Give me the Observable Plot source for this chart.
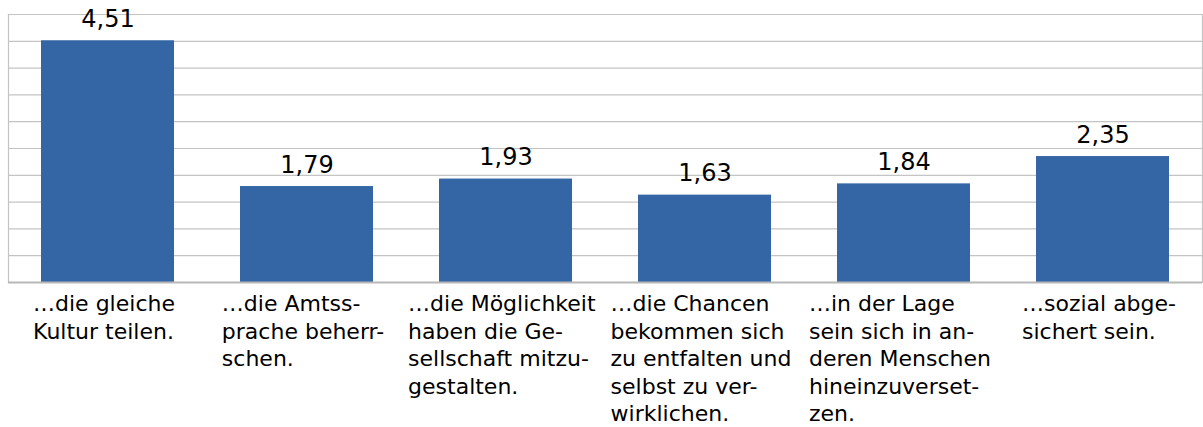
<!DOCTYPE html>
<html>
<head>
<meta charset="utf-8">
<script src="https://cdn.jsdelivr.net/npm/d3@7"></script>
<script src="https://cdn.jsdelivr.net/npm/@observablehq/plot@0.6"></script>
<style>
  html, body { margin: 0; padding: 0; background: #fff; }
  #chart svg { display: block; }
</style>
</head>
<body>
<div id="chart"></div>
<script>
const categories = [
  "…die gleiche\nKultur teilen.",
  "…die Amtss-\nprache beherr-\nschen.",
  "…die Möglichkeit\nhaben die Ge-\nsellschaft mitzu-\ngestalten.",
  "…die Chancen\nbekommen sich\nzu entfalten und\nselbst zu ver-\nwirklichen.",
  "…in der Lage\nsein sich in an-\nderen Menschen\nhineinzuverset-\nzen.",
  "…sozial abge-\nsichert sein."
];
const values = [4.51, 1.79, 1.93, 1.63, 1.84, 2.35];
const gridTicks = [0.5, 1, 1.5, 2, 2.5, 3, 3.5, 4, 4.5, 5];

const data = categories.map((c, i) => ({cat: c, value: values[i]}));
const fmt = v => v.toFixed(2).replace(".", ",");

const chart = Plot.plot({
  width: 1203,
  height: 427,
  marginLeft: 8,
  marginRight: 1,
  marginTop: 14,
  marginBottom: 145,
  style: {fontFamily: "DejaVu Sans", background: "#fff"},
  x: {domain: categories, paddingInner: 0.33, paddingOuter: 0.165, label: null},
  y: {domain: [0, 5], label: null, axis: null},
  marks: [
    Plot.ruleY(gridTicks, {stroke: "#c4c4c4", strokeWidth: 1.2}),
    Plot.frame({stroke: "#c4c4c4", strokeWidth: 1.2, anchor: "left"}),
    Plot.frame({stroke: "#c4c4c4", strokeWidth: 1.2, anchor: "right"}),
    Plot.barY(data, {x: "cat", y: "value", fill: "#3465a4"}),
    Plot.ruleY([0], {stroke: "#b8b8b8", strokeWidth: 1.8}),
    Plot.text(data, {
      x: "cat", y: "value", text: d => fmt(d.value),
      lineAnchor: "bottom", dy: -14, fontSize: 24, fill: "#000"
    }),
    Plot.axisX({
      tickSize: 0, tickPadding: 9, fontSize: 22, lineHeight: 1.25,
      textAnchor: "start", fill: "#000", label: null
    })
  ]
});
document.getElementById("chart").append(chart);

// center each wrapped label block under its bar, lines left-aligned
chart.querySelectorAll("g[aria-label='x-axis tick label'] text").forEach(t => {
  const w = t.getBBox().width;
  t.setAttribute("transform", (t.getAttribute("transform") || "") + ` translate(${-w / 2 - 4},0)`);
});
</script>
</body>
</html>
